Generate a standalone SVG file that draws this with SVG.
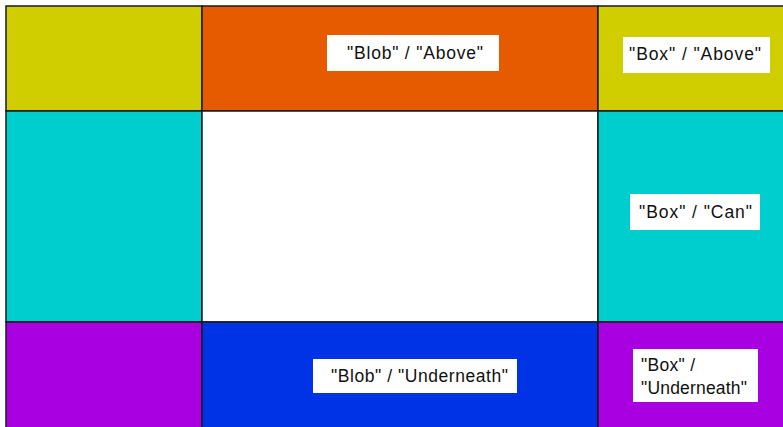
<svg xmlns="http://www.w3.org/2000/svg" width="783" height="427" viewBox="0 0 783 427">
<style>
.cell{stroke:#1a1a1a;stroke-width:1.5}
.lbl{fill:#ffffff}
text{font-family:"Liberation Sans",Arial,sans-serif;font-size:17.5px;fill:#111111}
</style>
<rect width="783" height="427" fill="#ffffff"/>
<g id="top-left"><rect class="cell" x="6" y="6" width="196" height="105" fill="#d0ce00"/></g>
<g id="top-center"><rect class="cell" x="202" y="6" width="396" height="105" fill="#e65a00"/>
<rect class="lbl" x="327" y="35" width="172" height="36"/>
<text x="347" y="59" textLength="136" lengthAdjust="spacing">"Blob" / "Above"</text></g>
<g id="top-right"><rect class="cell" x="598" y="6" width="190" height="105" fill="#d0ce00"/>
<rect class="lbl" x="623" y="37" width="147" height="36"/>
<text x="629" y="60" textLength="132" lengthAdjust="spacing">"Box" / "Above"</text></g>
<g id="mid-left"><rect class="cell" x="6" y="111" width="196" height="211" fill="#00cece"/></g>
<g id="mid-center"><rect class="cell" x="202" y="111" width="396" height="211" fill="#ffffff"/></g>
<g id="mid-right"><rect class="cell" x="598" y="111" width="190" height="211" fill="#00cece"/>
<rect class="lbl" x="630" y="194" width="130" height="36"/>
<text x="639" y="218" textLength="113" lengthAdjust="spacing">"Box" / "Can"</text></g>
<g id="bot-left"><rect class="cell" x="6" y="322" width="196" height="110" fill="#a800e0"/></g>
<g id="bot-center"><rect class="cell" x="202" y="322" width="396" height="110" fill="#0033e6"/>
<rect class="lbl" x="313" y="359" width="204" height="34"/>
<text x="331" y="382" textLength="177" lengthAdjust="spacing">"Blob" / "Underneath"</text></g>
<g id="bot-right"><rect class="cell" x="598" y="322" width="190" height="110" fill="#a800e0"/>
<rect class="lbl" x="633" y="349" width="125" height="53"/>
<text x="641" y="371" textLength="54" lengthAdjust="spacing">"Box" /</text>
<text x="641" y="394" textLength="106" lengthAdjust="spacing">"Underneath"</text></g>
<g id="connectors"></g>
</svg>
